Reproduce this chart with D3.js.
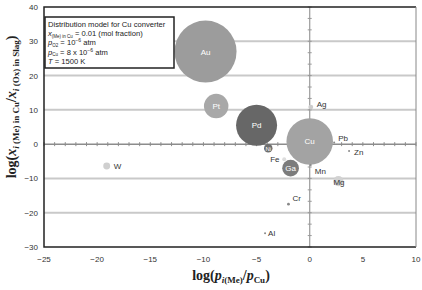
<!DOCTYPE html>
<html>
<head>
<meta charset="utf-8">
<script src="https://cdn.jsdelivr.net/npm/d3@7"></script>
<style>
  body { margin: 0; background: #fff; }
  svg { display: block; }
</style>
</head>
<body>
<div id="chart"></div>
<script>
// elements, x = log(p_i/p_Cu), y = log(x_i in Cu / x_i in slag), bubble size
var metals = ['Au', 'Pt', 'Pd', 'Cu', 'Ni', 'Fe', 'Ga', 'Mn', 'Mg', 'Zn', 'Pb', 'Ag', 'Cr', 'Al', 'W'];
var xValues = [-9.8, -8.8, -5.0, 0.0, -3.9, -2.4, -1.8, 0.1, 2.7, 3.7, 2.3, 0.1, -2.0, -4.2, -19.1];
var yValues = [27.0, 11.1, 5.5, 0.8, -1.2, -4.4, -7.0, -6.1, -10.8, -2.0, 0.5, 10.8, -17.5, -26.0, -6.4];
var sizes = [960, 150, 420, 540, 18, 4, 70, 1, 26, 1, 1, 6, 2, 1, 12];

var xTicks = [-25, -20, -15, -10, -5, 0, 5, 10];
var yTicks = [-30, -20, -10, 0, 10, 20, 30, 40];
var gridLines = [-20, -10, 10, 20, 30];

var legendLines = [
  [['Distribution model for Cu converter', '']],
  [['x', 'sub', '(Me) in Cu'], [' = 0.01 (mol fraction)', '']],
  [['p', 'sub', 'O2'], [' = 10', ''], ['−6', 'sup'], [' atm', '']],
  [['p', 'sub', 'Cu'], [' = 8 x 10', ''], ['−6', 'sup'], [' atm', '']],
  [['T', 'it'], [' = 1500 K', '']]
];

var width = 422, height = 290;
var margin = { left: 44, right: 6, top: 7, bottom: 43 };

var svg = d3.select('#chart').append('svg')
  .attr('width', width).attr('height', height)
  .style('font-family', '"Liberation Sans", Arial, sans-serif');

var xScale = d3.scaleLinear().domain([-25, 10]).range([margin.left, width - margin.right]);
var yScale = d3.scaleLinear().domain([-30, 40]).range([height - margin.bottom, margin.top]);
var rScale = d3.scaleSqrt().domain([0, 960]).range([0, 31]);

var data = metals.map(function(m, i) {
  return { name: m, x: xValues[i], y: yValues[i], s: sizes[i] };
});

// gridlines
svg.append('g').selectAll('line').data(gridLines).enter().append('line')
  .attr('x1', xScale(-25)).attr('x2', xScale(10))
  .attr('y1', function(d) { return yScale(d); })
  .attr('y2', function(d) { return yScale(d); })
  .attr('stroke', '#c9c9c9').attr('stroke-width', 2);

// x = 0 line with minor ticks
svg.append('line')
  .attr('x1', xScale(0)).attr('x2', xScale(0))
  .attr('y1', yScale(40)).attr('y2', yScale(-30))
  .attr('stroke', '#9a9a9a').attr('stroke-width', 1.2);
svg.append('g').selectAll('line').data(d3.range(-30, 40.01, 10 / 3)).enter().append('line')
  .attr('x1', xScale(0) - 2).attr('x2', xScale(0) + 2)
  .attr('y1', function(d) { return yScale(d); })
  .attr('y2', function(d) { return yScale(d); })
  .attr('stroke', '#9a9a9a').attr('stroke-width', 1);

// y = 0 line with minor ticks
svg.append('line')
  .attr('x1', xScale(-25)).attr('x2', xScale(10))
  .attr('y1', yScale(0)).attr('y2', yScale(0))
  .attr('stroke', '#8c8c8c').attr('stroke-width', 1.5);
svg.append('g').selectAll('line').data(d3.range(-25, 10.01, 1)).enter().append('line')
  .attr('x1', function(d) { return xScale(d); })
  .attr('x2', function(d) { return xScale(d); })
  .attr('y1', yScale(0) - 2).attr('y2', yScale(0) + 2)
  .attr('stroke', '#8c8c8c').attr('stroke-width', 1);

// bubbles
var fills = { Au: '#9c9c9c', Pt: '#a8a8a8', Pd: '#676767', Cu: '#a3a3a3', Ni: '#6e6e6e',
  Ga: '#7c7c7c', Mg: '#d2d2d2', W: '#cfcfcf', Ag: '#cccccc', Fe: '#dddddd' };
var inside = ['Au', 'Pt', 'Pd', 'Cu', 'Ni', 'Ga'];

svg.append('g').selectAll('circle').data(data).enter().append('circle')
  .attr('cx', function(d) { return xScale(d.x); })
  .attr('cy', function(d) { return yScale(d.y); })
  .attr('r', function(d) { return Math.max(rScale(d.s), 1); })
  .attr('fill', function(d) { return fills[d.name] || '#888'; });

// bubble labels
var labelPlace = {
  Fe: { dx: -14, dy: 3 }, Mn: { dx: 4, dy: 9 }, Mg: { dx: -5, dy: 4 }, Zn: { dx: 5, dy: 4 },
  Pb: { dx: 4, dy: -1 }, Ag: { dx: 6, dy: 0 }, Cr: { dx: 4, dy: -3 }, Al: { dx: 3, dy: 3 },
  W: { dx: 7, dy: 3 }
};
svg.append('g').selectAll('text').data(data).enter().append('text')
  .attr('x', function(d) {
    return xScale(d.x) + (inside.indexOf(d.name) >= 0 ? 0 : labelPlace[d.name].dx);
  })
  .attr('y', function(d) {
    return yScale(d.y) + (inside.indexOf(d.name) >= 0 ? 3 : labelPlace[d.name].dy);
  })
  .attr('text-anchor', function(d) { return inside.indexOf(d.name) >= 0 ? 'middle' : 'start'; })
  .attr('font-size', function(d) { return d.name === 'Ni' ? 6 : 8; })
  .attr('fill', function(d) { return inside.indexOf(d.name) >= 0 ? '#fff' : '#333'; })
  .text(function(d) { return d.name; });

// frame
svg.append('path')
  .attr('d', 'M' + xScale(10) + ',' + yScale(40) + 'H' + xScale(-25) + 'V' + yScale(-30) + 'H' + xScale(10))
  .attr('fill', 'none').attr('stroke', '#222').attr('stroke-width', 1.5);
svg.append('line')
  .attr('x1', xScale(10)).attr('x2', xScale(10))
  .attr('y1', yScale(40)).attr('y2', yScale(-30))
  .attr('stroke', '#888').attr('stroke-width', 1);

// tick labels
svg.append('g').selectAll('text').data(xTicks).enter().append('text')
  .attr('x', function(d) { return xScale(d); })
  .attr('y', height - margin.bottom + 15)
  .attr('text-anchor', 'middle').attr('font-size', 8).attr('fill', '#333')
  .text(function(d) { return d < 0 ? '−' + (-d) : d; });
svg.append('g').selectAll('text').data(yTicks).enter().append('text')
  .attr('x', margin.left - 6)
  .attr('y', function(d) { return yScale(d) + 3; })
  .attr('text-anchor', 'end').attr('font-size', 8).attr('fill', '#333')
  .text(function(d) { return d < 0 ? '−' + (-d) : d; });

// legend box
var lg = svg.append('g').attr('transform', 'translate(45,17)');
lg.append('rect').attr('width', 129).attr('height', 51)
  .attr('fill', '#fff').attr('stroke', '#222').attr('stroke-width', 1.5);
legendLines.forEach(function(parts, i) {
  var t = lg.append('text').attr('x', 3).attr('y', 10 + i * 9.2)
    .attr('font-size', 7.6).attr('fill', '#222');
  var back = 0;
  parts.forEach(function(p) {
    var s;
    if (p[1] === 'sub') {
      t.append('tspan').attr('font-style', 'italic').attr('dy', back).text(p[0]);
      t.append('tspan').attr('font-size', 4.5).attr('dy', 1.5).text(p[2]);
      back = -1.5;
    } else if (p[1] === 'sup') {
      t.append('tspan').attr('font-size', 5).attr('dy', back - 3).text(p[0]);
      back = 3;
    } else {
      s = t.append('tspan').attr('dy', back).text(p[0]);
      if (p[1] === 'it') s.attr('font-style', 'italic');
      back = 0;
    }
  });
});

// axis titles
function title(t, parts) {
  t.attr('font-family', '"Liberation Serif", "DejaVu Serif", serif')
    .attr('font-weight', 'bold').attr('fill', '#222').attr('text-anchor', 'middle');
  parts.forEach(function(p) {
    var s = t.append('tspan').text(p[0]);
    if (p[1] === 'it') s.attr('font-style', 'italic').attr('font-size', 14);
    else if (p[1] === 'sub') s.attr('font-size', 9).attr('dy', 3);
    else if (p[1] === 'subit') s.attr('font-size', 9).attr('font-style', 'italic').attr('dy', 3);
    else if (p[1] === 'subn') s.attr('font-size', 9);
    else if (p[1] === 'back') s.attr('font-size', 14).attr('dy', -3);
    else s.attr('font-size', 14);
  });
}
title(svg.append('text').attr('x', 231).attr('y', 280), [
  ['log(', ''], ['p', 'it'], ['i', 'subit'], ['(Me)', 'subn'], ['/', 'back'], ['p', 'it'],
  ['Cu', 'sub'], [')', 'back']
]);
title(svg.append('text').attr('transform', 'translate(16,107) rotate(-90)'), [
  ['log(', ''], ['x', 'it'], ['i', 'subit'], [' (Me) in Cu', 'subn'], ['/', 'back'], ['x', 'it'],
  ['i', 'subit'], [' (Ox) in Slag', 'subn'], [')', 'back']
]);
</script>
</body>
</html>
